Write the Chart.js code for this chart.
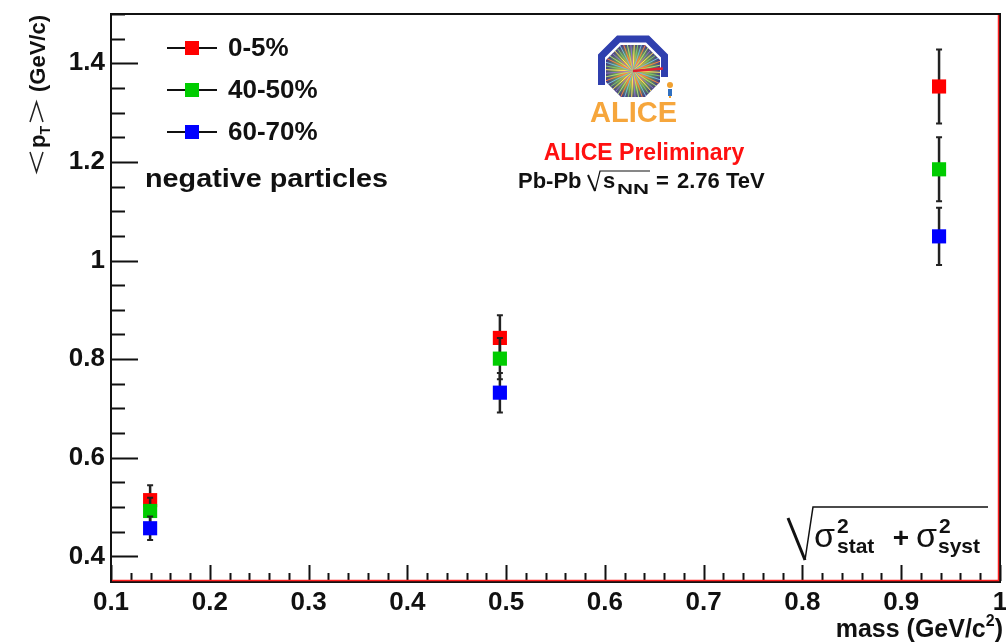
<!DOCTYPE html>
<html>
<head>
<meta charset="utf-8">
<script src="https://cdn.jsdelivr.net/npm/chart.js@4.4.0/dist/chart.umd.min.js"></script>
<style>
body { margin: 0; background: #fff; }
#wrap { width: 1006px; height: 643px; }
</style>
</head>
<body>
<div id="wrap"><canvas id="myChart" width="1006" height="643"></canvas></div>
<script>
// masses of pi, K, p (GeV/c^2)
const masses = [0.1396, 0.4937, 0.9383];
const centralities = ['0-5%', '40-50%', '60-70%'];
// <pT> per centrality class, with sqrt(stat^2 + syst^2) errors
const meanPt_0_5 = [0.514, 0.843, 1.353];
const err_0_5 = [0.030, 0.046, 0.075];
const meanPt_40_50 = [0.492, 0.801, 1.185];
const err_40_50 = [0.027, 0.042, 0.065];
const meanPt_60_70 = [0.457, 0.732, 1.049];
const err_60_70 = [0.024, 0.040, 0.058];
const colors = ['#ff0000', '#00cc00', '#0000ff'];
const xTickLabels = ['0.1', '0.2', '0.3', '0.4', '0.5', '0.6', '0.7', '0.8', '0.9', '1'];
const yTickLabels = ['0.4', '0.6', '0.8', '1', '1.2', '1.4'];

const FONT = '"Liberation Sans", Arial, sans-serif';

function txt(ctx, s, x, y, font, color, align) {
    ctx.font = font;
    ctx.fillStyle = color || '#111';
    ctx.textAlign = align || 'left';
    ctx.textBaseline = 'alphabetic';
    ctx.fillText(s, x, y);
    return ctx.measureText(s).width;
}

// text stretched horizontally to a given width (ROOT fonts run wide)
function txtFit(ctx, s, x, y, font, color, width) {
    ctx.font = font;
    const w = ctx.measureText(s).width;
    ctx.save();
    ctx.translate(x, y);
    ctx.scale(width / w, 1);
    txt(ctx, s, 0, 0, font, color);
    ctx.restore();
    return width;
}

function pickLabel(list, v) {
    const hit = list.find(l => Math.abs(Number(l) - v) < 1e-6);
    return hit === undefined ? '' : hit;
}

// error bars under each dataset's markers
const errorBars = {
    id: 'errorBars',
    beforeDatasetDraw(chart, args) {
        const ds = chart.data.datasets[args.index];
        const ctx = chart.ctx;
        const xs = chart.scales.x, ys = chart.scales.y;
        ctx.save();
        ctx.strokeStyle = '#222';
        ds.data.forEach((p, i) => {
            const e = ds.yErr[i];
            const px = xs.getPixelForValue(p.x);
            const y1 = ys.getPixelForValue(p.y + e);
            const y2 = ys.getPixelForValue(p.y - e);
            ctx.lineWidth = 2.5;
            ctx.beginPath();
            ctx.moveTo(px, y1); ctx.lineTo(px, y2);
            ctx.stroke();
            ctx.lineWidth = 2;
            ctx.beginPath();
            ctx.moveTo(px - 3, y1); ctx.lineTo(px + 3, y1);
            ctx.moveTo(px - 3, y2); ctx.lineTo(px + 3, y2);
            ctx.stroke();
        });
        ctx.restore();
    }
};

function drawLogo(ctx, cx, cy) {
    ctx.save();
    // blue outer band
    ctx.strokeStyle = '#2f3fae';
    ctx.lineWidth = 7;
    ctx.lineJoin = 'miter';
    ctx.beginPath();
    ctx.moveTo(cx - 31.5, cy + 14);
    ctx.lineTo(cx - 31.5, cy - 15);
    ctx.lineTo(cx - 14.5, cy - 32);
    ctx.lineTo(cx + 14.5, cy - 32);
    ctx.lineTo(cx + 31.5, cy - 15);
    ctx.lineTo(cx + 31.5, cy + 6);
    ctx.stroke();
    // inner octagon
    const oct = [[-12, -26], [12, -26], [27, -11], [27, 11], [12, 26], [-12, 26], [-27, 11], [-27, -11]];
    ctx.beginPath();
    oct.forEach((p, i) => i ? ctx.lineTo(cx + p[0], cy + p[1]) : ctx.moveTo(cx + p[0], cy + p[1]));
    ctx.closePath();
    const g = ctx.createRadialGradient(cx, cy, 1, cx, cy, 29);
    g.addColorStop(0, '#ffd040');
    g.addColorStop(0.3, '#f29a3a');
    g.addColorStop(0.6, '#6c9a58');
    g.addColorStop(1, '#43348a');
    ctx.fillStyle = g;
    ctx.fill();
    ctx.save();
    ctx.clip();
    const rayCols = ['#ffe060', '#80c868', '#70b8e0', '#ff8040', '#b0e070', '#9070d0'];
    ctx.lineWidth = 1;
    for (let k = 0; k < 48; k++) {
        const a = k * Math.PI * 2 / 48 + 0.05;
        ctx.strokeStyle = rayCols[k % rayCols.length];
        ctx.beginPath();
        ctx.moveTo(cx, cy);
        ctx.lineTo(cx + Math.cos(a) * 30, cy + Math.sin(a) * 30);
        ctx.stroke();
    }
    ctx.restore();
    ctx.strokeStyle = '#e02030';
    ctx.lineWidth = 2.5;
    ctx.stroke();
    // small figure
    ctx.fillStyle = '#f0a030';
    ctx.beginPath(); ctx.arc(cx + 37, cy + 14, 3, 0, Math.PI * 2); ctx.fill();
    ctx.fillStyle = '#3070c0';
    ctx.fillRect(cx + 35, cy + 18, 4, 7);
    ctx.fillStyle = '#f0a030';
    ctx.fillRect(cx + 36, cy + 25, 2, 2);
    txt(ctx, 'ALICE', cx + 0.5, cy + 51, 'bold 29px ' + FONT, '#f6a63c', 'center');
    ctx.restore();
}

const decorations = {
    id: 'decorations',
    beforeDraw(chart) {
        const ctx = chart.ctx;
        ctx.save();
        ctx.fillStyle = '#fff';
        ctx.fillRect(0, 0, chart.width, chart.height);
        ctx.restore();
    },
    afterDraw(chart) {
        const ctx = chart.ctx;
        const a = chart.chartArea;
        const xs = chart.scales.x, ys = chart.scales.y;
        ctx.save();

        // tick marks (ROOT style, inside the frame)
        ctx.strokeStyle = '#111';
        ctx.lineWidth = 2;
        ctx.beginPath();
        for (let k = 0; k <= 45; k++) {
            const v = 0.1 + k * 0.02;
            const px = Math.round(xs.getPixelForValue(v)) + 0.5;
            const len = k % 5 === 0 ? 16 : 8;
            ctx.moveTo(px, a.bottom); ctx.lineTo(px, a.bottom - len);
        }
        for (let k = 0; k <= 23; k++) {
            const v = 0.35 + k * 0.05;
            const py = Math.round(ys.getPixelForValue(v)) + 0.5;
            const major = k % 4 === 1;
            ctx.moveTo(a.left, py); ctx.lineTo(a.left + (major ? 27 : 14), py);
        }
        ctx.stroke();

        // frame
        ctx.lineWidth = 2;
        ctx.strokeStyle = '#111';
        ctx.strokeRect(a.left, a.top, a.right - a.left, a.bottom - a.top + 1);
        ctx.strokeStyle = '#ff2020';
        ctx.lineWidth = 1.5;
        ctx.beginPath();
        ctx.moveTo(a.left + 1, a.bottom - 0.5); ctx.lineTo(a.right - 1.5, a.bottom - 0.5);
        ctx.lineTo(a.right - 1.5, a.top + 1);
        ctx.stroke();

        // legend
        chart.data.datasets.forEach((ds, i) => {
            const y = 48 + 42 * i;
            ctx.strokeStyle = '#111';
            ctx.lineWidth = 2;
            ctx.beginPath();
            ctx.moveTo(167, y); ctx.lineTo(217, y);
            ctx.stroke();
            ctx.fillStyle = ds.backgroundColor;
            ctx.fillRect(185, y - 7, 14, 14);
            ctx.font = 'bold 26px ' + FONT;
            ctx.fillStyle = '#111';
            ctx.textAlign = 'left';
            ctx.textBaseline = 'middle';
            ctx.fillText(ds.label, 228, y + 1);
        });
        txtFit(ctx, 'negative particles', 145, 187, 'bold 26px ' + FONT, '#111', 243);

        // logo and labels
        drawLogo(ctx, 633, 71);
        txt(ctx, 'ALICE Preliminary', 644, 160, 'bold 23px ' + FONT, '#ff1010', 'center');
        const f = 'bold 22px ' + FONT;
        txt(ctx, 'Pb-Pb', 518, 188, f, '#111');
        // radical
        ctx.strokeStyle = '#111';
        ctx.lineWidth = 2;
        ctx.beginPath();
        ctx.moveTo(588, 175); ctx.lineTo(595, 191);
        ctx.stroke();
        ctx.lineWidth = 1.2;
        ctx.beginPath();
        ctx.moveTo(595, 191); ctx.lineTo(600, 171); ctx.lineTo(650, 171);
        ctx.stroke();
        txt(ctx, 's', 603, 188, f, '#111');
        txtFit(ctx, 'NN', 617, 194, 'bold 14px ' + FONT, '#111', 32);
        txt(ctx, '=', 656, 188, f, '#111');
        txt(ctx, '2.76 TeV', 677, 188, f, '#111');

        // sqrt(sigma_stat^2 + sigma_syst^2)
        ctx.strokeStyle = '#111';
        ctx.lineWidth = 3;
        ctx.beginPath();
        ctx.moveTo(788, 518); ctx.lineTo(805, 560);
        ctx.stroke();
        ctx.lineWidth = 1.5;
        ctx.beginPath();
        ctx.moveTo(805, 560); ctx.lineTo(813, 507); ctx.lineTo(988, 507);
        ctx.stroke();
        txt(ctx, '\u03c3', 814, 547, '34px ' + FONT, '#111');
        txt(ctx, '2', 837, 533, 'bold 21px ' + FONT, '#111');
        txt(ctx, 'stat', 837, 553, 'bold 21px ' + FONT, '#111');
        txt(ctx, '+', 901, 547, 'bold 28px ' + FONT, '#111', 'center');
        txt(ctx, '\u03c3', 916, 547, '34px ' + FONT, '#111');
        txt(ctx, '2', 939, 533, 'bold 21px ' + FONT, '#111');
        txt(ctx, 'syst', 938, 553, 'bold 21px ' + FONT, '#111');

        // x axis title
        ctx.font = 'bold 25px ' + FONT;
        const wClose = ctx.measureText(')').width;
        const wMain = ctx.measureText('mass (GeV/c').width;
        ctx.font = 'bold 16px ' + FONT;
        const wSup = ctx.measureText('2').width;
        let tx = 1003 - wClose - wSup - wMain;
        tx += txt(ctx, 'mass (GeV/c', tx, 637, 'bold 25px ' + FONT, '#111');
        tx += txt(ctx, '2', tx, 626, 'bold 16px ' + FONT, '#111');
        txt(ctx, ')', tx, 637, 'bold 25px ' + FONT, '#111');

        // y axis title (rotated): <p_T> (GeV/c)
        ctx.translate(45, 172);
        ctx.rotate(-Math.PI / 2);
        ctx.strokeStyle = '#222';
        ctx.lineWidth = 1.5;
        ctx.beginPath();
        ctx.moveTo(20, -15); ctx.lineTo(0, -8.5); ctx.lineTo(20, -2);
        ctx.moveTo(50, -15); ctx.lineTo(70, -8.5); ctx.lineTo(50, -2);
        ctx.stroke();
        let lx = 24;
        lx += txt(ctx, 'p', lx, 0, 'bold 22px ' + FONT, '#111');
        txt(ctx, 'T', lx, 5, 'bold 14px ' + FONT, '#111');
        txtFit(ctx, '(GeV/c)', 80, 0, 'bold 22px ' + FONT, '#111', 77);
        ctx.restore();
    }
};

const means = [meanPt_0_5, meanPt_40_50, meanPt_60_70];
const errs = [err_0_5, err_40_50, err_60_70];

const ctx = document.getElementById('myChart');
const myChart = new Chart(ctx, {
    type: 'scatter',
    data: {
        datasets: centralities.map((c, i) => ({
            label: c,
            data: masses.map((m, j) => ({ x: m, y: means[i][j] })),
            yErr: errs[i],
            backgroundColor: colors[i],
            borderColor: colors[i],
            borderWidth: 0,
            pointStyle: 'rect',
            pointRadius: 10,
            order: 3 - i
        }))
    },
    options: {
        responsive: false,
        animation: false,
        layout: { autoPadding: false, padding: { top: 14, right: 6, left: 0, bottom: 0 } },
        plugins: { legend: { display: false }, tooltip: { enabled: false } },
        scales: {
            x: {
                type: 'linear',
                min: 0.1,
                max: 1,
                afterFit: s => { s.height = 62; s.paddingLeft = 0; s.paddingRight = 0; },
                grid: { display: false, drawTicks: false },
                border: { display: false },
                ticks: {
                    stepSize: 0.1,
                    autoSkip: false,
                    maxRotation: 0,
                    padding: 6,
                    color: '#111',
                    font: { family: 'Liberation Sans', size: 26, weight: 'bold' },
                    callback: v => pickLabel(xTickLabels, v)
                }
            },
            y: {
                min: 0.35,
                max: 1.5,
                afterFit: s => { s.width = 111; s.paddingTop = 0; s.paddingBottom = 0; },
                grid: { display: false, drawTicks: false },
                border: { display: false },
                ticks: {
                    stepSize: 0.2,
                    includeBounds: false,
                    autoSkip: false,
                    padding: 6,
                    color: '#111',
                    font: { family: 'Liberation Sans', size: 26, weight: 'bold' },
                    callback: v => pickLabel(yTickLabels, v)
                }
            }
        }
    },
    plugins: [errorBars, decorations]
});
</script>
</body>
</html>
